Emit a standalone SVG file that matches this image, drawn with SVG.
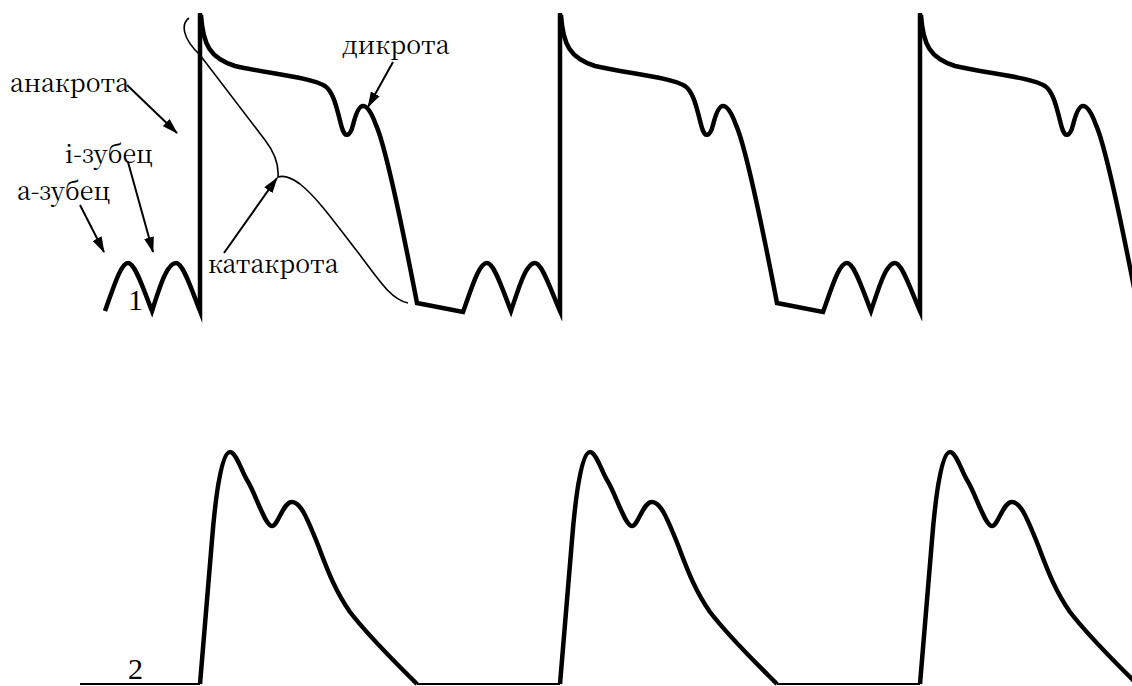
<svg xmlns="http://www.w3.org/2000/svg" width="1132" height="686" viewBox="0 0 1132 686">
<style>
.tr{fill:none;stroke:#000;stroke-width:4.5;stroke-linejoin:miter;stroke-miterlimit:10}
.base{fill:none;stroke:#000;stroke-width:2}
.thin{fill:none;stroke:#000;stroke-width:1.6}
.arr{fill:none;stroke:#000;stroke-width:2;marker-end:url(#ah)}
.lbl{font-family:'Noto Serif CJK SC','Liberation Serif',serif;font-size:25px;fill:#000}
.num{font-family:'Liberation Serif','Times New Roman',serif;font-size:30px;fill:#000}
</style>
<defs>
<marker id="ah" markerUnits="userSpaceOnUse" viewBox="0 0 16 10" refX="15" refY="5" markerWidth="16" markerHeight="10" orient="auto">
<path d="M0,0 L16,5 L0,10 z" fill="#000"/>
</marker>
</defs>
<rect width="1132" height="686" fill="#fff"/>
<g id="trace1">
<path class="tr" d="M105 311 C114 286,121 263,128 263 C135 263,143 288,152 311 C160 286,167 263,176 263 C183 263,191 288,200 311 L200 13"/>
<path class="tr" d="M201 15 C203 45,210 58,235 66 C270 74,310 77,325 86 C335 93,338 115,342 128 C345 138,350 137,353 125 C356 113,359 106,363 106 C368 106,372 114,376 125 C385 145,400 215,417 303 L463 312 C472 287,479 263,487 263 C494 263,502 288,511 311 C519 287,526 263,535 263 C542 263,550 288,560 311 L560 13"/>
<path class="tr" d="M561 15 C563 45,570 58,595 66 C630 74,670 77,685 86 C695 93,698 115,702 128 C705 138,710 137,713 125 C716 113,719 106,723 106 C728 106,732 114,736 125 C745 145,760 215,777 303 L823 312 C832 287,839 263,847 263 C854 263,862 288,871 311 C879 287,886 263,895 263 C902 263,910 288,920 311 L920 13"/>
<path class="tr" d="M921 15 C923 45,930 58,955 66 C990 74,1030 77,1045 86 C1055 93,1058 115,1062 128 C1065 138,1070 137,1073 125 C1076 113,1079 106,1083 106 C1088 106,1092 114,1096 125 C1105 145,1120 215,1137 303"/>
</g>
<g id="trace2">
<path class="base" d="M80 684 L200 684 M417 684 L560 684 M777 684 L920 684"/>
<path class="tr" d="M200 684 L212 540 C216 490,222 452,230 452 C236 452,242 472,247 480 C255 492,265 526,272 526 C278 526,283 502,292 502 C300 502,306 515,318 545 C328 572,336 592,350 612 C370 638,395 662,417 684"/>
<path class="tr" d="M560 684 L572 540 C576 490,582 452,590 452 C596 452,602 472,607 480 C615 492,625 526,632 526 C638 526,643 502,652 502 C660 502,666 515,678 545 C688 572,696 592,710 612 C730 638,755 662,777 684"/>
<path class="tr" d="M920 684 L932 540 C936 490,942 452,950 452 C956 452,962 472,967 480 C975 492,985 526,992 526 C998 526,1003 502,1012 502 C1020 502,1026 515,1038 545 C1048 572,1056 592,1070 612 C1090 638,1115 662,1137 684"/>
</g>
<g id="bracket">
<path class="thin" d="M189 18 C181 24,182 38,200 55 L265 140 C275 153,279 165,278 177 C284 175,292 178,300 184 C320 200,340 230,360 255 C380 282,392 300,408 303"/>
</g>
<g id="connectors">
<path class="arr" d="M127 85 L177 133"/>
<path class="arr" d="M128 162 L153 252"/>
<path class="arr" d="M80 205 L104 252"/>
<path class="arr" d="M393 62 L368 107"/>
<path class="arr" d="M224 253 L277 178"/>
</g>
<g id="labels">
<text class="lbl" x="10" y="92">анакрота</text>
<text class="lbl" x="65" y="163">i-зубец</text>
<text class="lbl" x="17" y="200">а-зубец</text>
<text class="lbl" x="342" y="54">дикрота</text>
<text class="lbl" x="208" y="273">катакрота</text>
<text class="num" x="128" y="310">1</text>
<text class="num" x="128" y="679">2</text>
</g>
</svg>
